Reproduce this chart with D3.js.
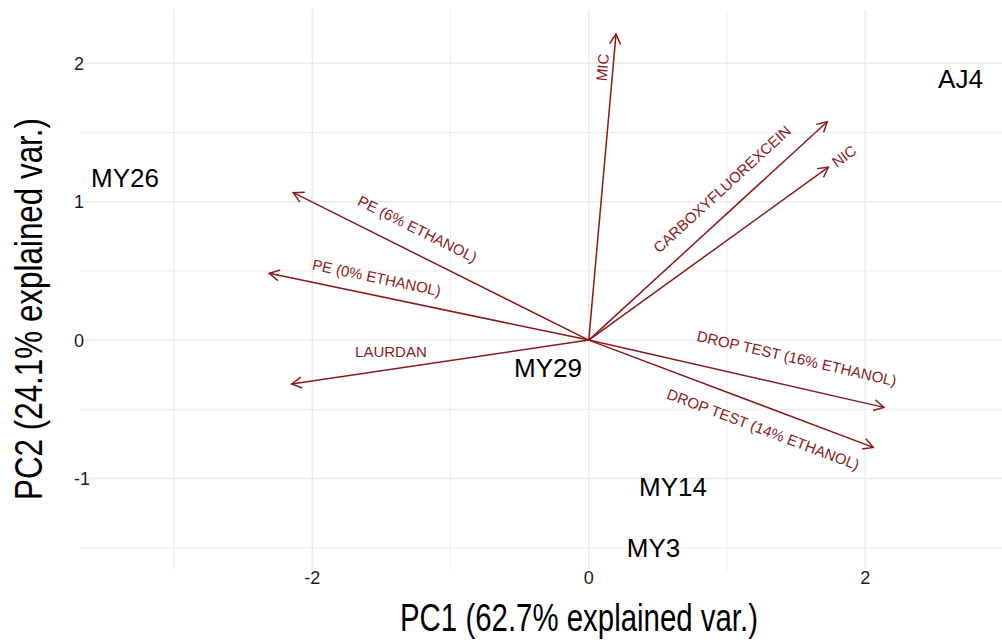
<!DOCTYPE html>
<html>
<head>
<meta charset="utf-8">
<script src="https://cdn.jsdelivr.net/npm/d3@7"></script>
<style>
  html, body { margin: 0; padding: 0; background: #fff; }
  svg { display: block; font-family: "Liberation Sans", Arial, Helvetica, sans-serif; }
</style>
</head>
<body>
<svg id="chart" width="1002" height="640"></svg>
<script>
// PCA biplot: sample scores (PC1, PC2) and variable loading vectors

// Sample labels and their scores
const samples = ["AJ4", "MY26", "MY29", "MY14", "MY3"];
const samplePC1 = [2.689, -3.355, -0.295, 0.609, 0.468];
const samplePC2 = [1.890, 1.171, -0.202, -1.058, -1.498];

// Variables and loading vector tips
const variables = [
  "MIC",
  "CARBOXYFLUOREXCEIN",
  "NIC",
  "PE (6% ETHANOL)",
  "PE (0% ETHANOL)",
  "LAURDAN",
  "DROP TEST (16% ETHANOL)",
  "DROP TEST (14% ETHANOL)"
];
const loadPC1 = [0.197, 1.725, 1.733, -2.137, -2.311, -2.149, 2.135, 2.058];
const loadPC2 = [2.211, 1.578, 1.249, 1.065, 0.483, -0.317, -0.486, -0.775];

// Where each variable name sits (in PC units) and whether it follows its arrow's angle
const varLabelPC1 = [0.099, 0.963, 1.846, -1.239, -1.534, -1.431, 1.504, 1.262];
const varLabelPC2 = [1.970, 1.092, 1.329, 0.803, 0.452, -0.081, -0.131, -0.644];
const varLabelAlongArrow = [true, true, true, true, true, false, true, true];

// Axis breaks
const xMajor = [-2, 0, 2];
const xMinor = [-3, -1, 1];
const yMajor = [-1, 0, 1, 2];
const yMinor = [-1.5, -0.5, 0.5, 1.5];

const xTitle = "PC1 (62.7% explained var.)";
const yTitle = "PC2 (24.1% explained var.)";

// ---- layout ----
const svg = d3.select("#chart");
const panel = { left: 80, right: 1002, top: 10, bottom: 570 };

const x = d3.scaleLinear().domain([-3.680, 2.989]).range([panel.left, panel.right]);
const y = d3.scaleLinear().domain([-1.661, 2.385]).range([panel.bottom, panel.top]);

const arrowColor = "#8b1a1a";
const gridColor = "#ebebeb";

// grid
const grid = svg.append("g");
grid.selectAll(".vminor").data(xMinor).join("line")
  .attr("x1", d => x(d)).attr("x2", d => x(d))
  .attr("y1", panel.top).attr("y2", panel.bottom)
  .attr("stroke", gridColor).attr("stroke-width", 1);
grid.selectAll(".vmajor").data(xMajor).join("line")
  .attr("x1", d => x(d)).attr("x2", d => x(d))
  .attr("y1", panel.top).attr("y2", panel.bottom)
  .attr("stroke", gridColor).attr("stroke-width", 1.4);
grid.selectAll(".hminor").data(yMinor).join("line")
  .attr("x1", panel.left).attr("x2", panel.right)
  .attr("y1", d => y(d)).attr("y2", d => y(d))
  .attr("stroke", gridColor).attr("stroke-width", 1);
grid.selectAll(".hmajor").data(yMajor).join("line")
  .attr("x1", panel.left).attr("x2", panel.right)
  .attr("y1", d => y(d)).attr("y2", d => y(d))
  .attr("stroke", gridColor).attr("stroke-width", 1.4);

// tick labels
svg.append("g").selectAll("text").data(xMajor).join("text")
  .attr("x", d => x(d)).attr("y", 583.5)
  .attr("text-anchor", "middle")
  .attr("font-size", 18).attr("fill", "#1a1a1a")
  .text(d => d);
svg.append("g").selectAll("text").data(yMajor).join("text")
  .attr("x", 74).attr("y", d => y(d)).attr("dy", "0.36em")
  .attr("text-anchor", "start")
  .attr("font-size", 18).attr("fill", "#1a1a1a")
  .text(d => d);

// axis titles
svg.append("text")
  .attr("x", 579).attr("y", 631)
  .attr("text-anchor", "middle")
  .attr("font-size", 38).attr("fill", "#000")
  .attr("textLength", 358).attr("lengthAdjust", "spacingAndGlyphs")
  .text(xTitle);
svg.append("text")
  .attr("transform", "translate(42,309) rotate(-90)")
  .attr("text-anchor", "middle")
  .attr("font-size", 38).attr("fill", "#000")
  .attr("textLength", 382).attr("lengthAdjust", "spacingAndGlyphs")
  .text(yTitle);

// arrow head
svg.append("defs").append("marker")
  .attr("id", "head")
  .attr("viewBox", "-12 -8 14 16")
  .attr("refX", 0).attr("refY", 0)
  .attr("markerWidth", 14).attr("markerHeight", 16)
  .attr("markerUnits", "userSpaceOnUse")
  .attr("orient", "auto")
  .append("path")
  .attr("d", "M-10,-5.5L0,0L-10,5.5")
  .attr("fill", "none").attr("stroke", arrowColor).attr("stroke-width", 1.5);

const vars = variables.map((name, i) => ({
  name,
  px: loadPC1[i], py: loadPC2[i],
  lx: varLabelPC1[i], ly: varLabelPC2[i],
  along: varLabelAlongArrow[i]
}));

// loading vectors
svg.append("g").selectAll("line").data(vars).join("line")
  .attr("x1", x(0)).attr("y1", y(0))
  .attr("x2", d => x(d.px)).attr("y2", d => y(d.py))
  .attr("stroke", arrowColor).attr("stroke-width", 1.5)
  .attr("marker-end", "url(#head)");

// variable names, rotated parallel to their vectors
function screenAngle(d) {
  if (!d.along) return 0;
  const dx = x(d.px) - x(0), dy = y(d.py) - y(0);
  let a = Math.atan2(dy, dx) * 180 / Math.PI;
  if (a > 90) a -= 180;
  if (a < -90) a += 180;
  return a;
}
svg.append("g").selectAll("text").data(vars).join("text")
  .attr("transform", d => `translate(${x(d.lx)},${y(d.ly)}) rotate(${screenAngle(d)})`)
  .attr("text-anchor", "middle").attr("dy", "0.36em")
  .attr("font-size", 15).attr("fill", arrowColor)
  .text(d => d.name);

// sample names
svg.append("g").selectAll("text").data(samples).join("text")
  .attr("x", (d, i) => x(samplePC1[i]))
  .attr("y", (d, i) => y(samplePC2[i]))
  .attr("dy", "0.36em")
  .attr("text-anchor", "middle")
  .attr("font-size", 26).attr("fill", "#000")
  .text(d => d);
</script>
</body>
</html>
